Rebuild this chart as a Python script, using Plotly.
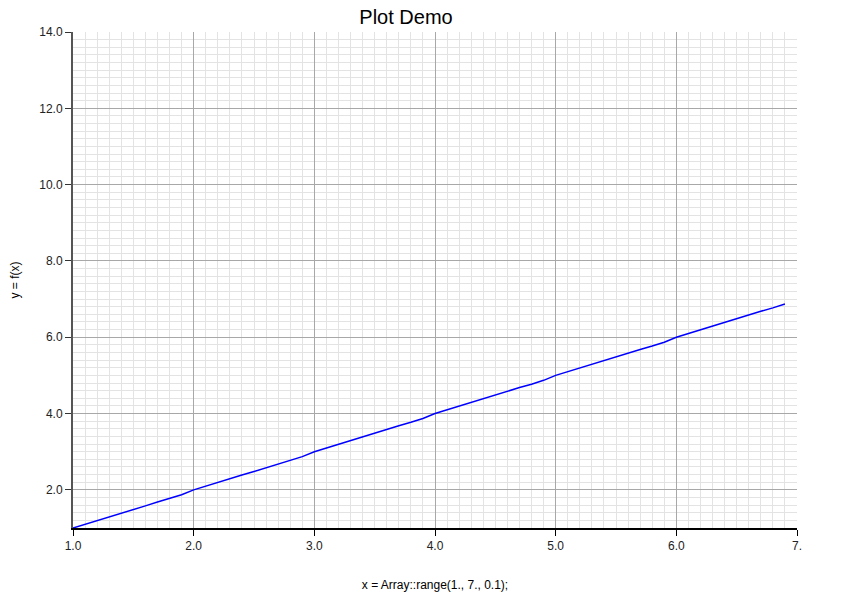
import plotly.graph_objects as go

# data
x_values = [1.0, 1.1, 1.2, 1.3, 1.4, 1.5, 1.6, 1.7, 1.8, 1.9,
            2.0, 2.1, 2.2, 2.3, 2.4, 2.5, 2.6, 2.7, 2.8, 2.9,
            3.0, 3.1, 3.2, 3.3, 3.4, 3.5, 3.6, 3.7, 3.8, 3.9,
            4.0, 4.1, 4.2, 4.3, 4.4, 4.5, 4.6, 4.7, 4.8, 4.9,
            5.0, 5.1, 5.2, 5.3, 5.4, 5.5, 5.6, 5.7, 5.8, 5.9,
            6.0, 6.1, 6.2, 6.3, 6.4, 6.5, 6.6, 6.7, 6.8, 6.9]
y_values = [1.00, 1.10, 1.19, 1.29, 1.39, 1.48, 1.58, 1.68, 1.77, 1.87,
            2.00, 2.10, 2.19, 2.29, 2.39, 2.48, 2.58, 2.68, 2.77, 2.87,
            3.00, 3.10, 3.19, 3.29, 3.39, 3.48, 3.58, 3.68, 3.77, 3.87,
            4.00, 4.10, 4.19, 4.29, 4.39, 4.48, 4.58, 4.68, 4.77, 4.87,
            5.00, 5.10, 5.19, 5.29, 5.39, 5.48, 5.58, 5.68, 5.77, 5.87,
            6.00, 6.10, 6.19, 6.29, 6.39, 6.48, 6.58, 6.68, 6.77, 6.87]

x_ticks = [1, 2, 3, 4, 5, 6, 7]
x_tick_labels = ["1.0", "2.0", "3.0", "4.0", "5.0", "6.0", "7."]
y_ticks = [2, 4, 6, 8, 10, 12, 14]
y_tick_labels = ["2.0", "4.0", "6.0", "8.0", "10.0", "12.0", "14.0"]

font_family = "Liberation Sans, Arial, sans-serif"

fig = go.Figure()
fig.add_trace(go.Scatter(x=x_values, y=y_values, mode="lines",
                         line=dict(color="#0000ff", width=1.5),
                         showlegend=False))

# the page body adds an 8px offset, so margins are shifted accordingly
fig.update_layout(
    width=845, height=607,
    margin=dict(l=65, r=56, t=24, b=87),
    paper_bgcolor="white", plot_bgcolor="white",
    font=dict(family=font_family, size=12, color="#222222"),
    title=dict(text="Plot Demo", x=0.471, xanchor="center",
               y=0.985, yanchor="middle",
               font=dict(size=20, color="#000000")),
)

# x axis
fig.update_xaxes(
    range=[1, 7], tickmode="array", tickvals=x_ticks, ticktext=x_tick_labels,
    showline=True, linecolor="#000000", linewidth=1.5,
    ticks="outside", ticklen=6, tickcolor="#000000",
    showgrid=True, gridcolor="#a8a8a8", gridwidth=1,
    minor=dict(tick0=1, dtick=0.1, showgrid=True, gridcolor="#e3e3e3", gridwidth=1),
    zeroline=False, automargin=False,
    title=dict(text="x = Array::range(1., 7., 0.1);", standoff=28,
               font=dict(size=12, color="#000000")),
)

# y axis
fig.update_yaxes(
    range=[1, 14], tickmode="array", tickvals=y_ticks, ticktext=y_tick_labels,
    showline=True, linecolor="#555555", linewidth=2,
    ticks="outside", ticklen=6, tickcolor="#333333",
    showgrid=True, gridcolor="#a8a8a8", gridwidth=1,
    minor=dict(tick0=0, dtick=0.2, showgrid=True, gridcolor="#e3e3e3", gridwidth=1),
    zeroline=False, automargin=False,
    title=dict(text="y = f(x)", standoff=22,
               font=dict(size=12, color="#000000")),
)

fig.write_html("out.html")
